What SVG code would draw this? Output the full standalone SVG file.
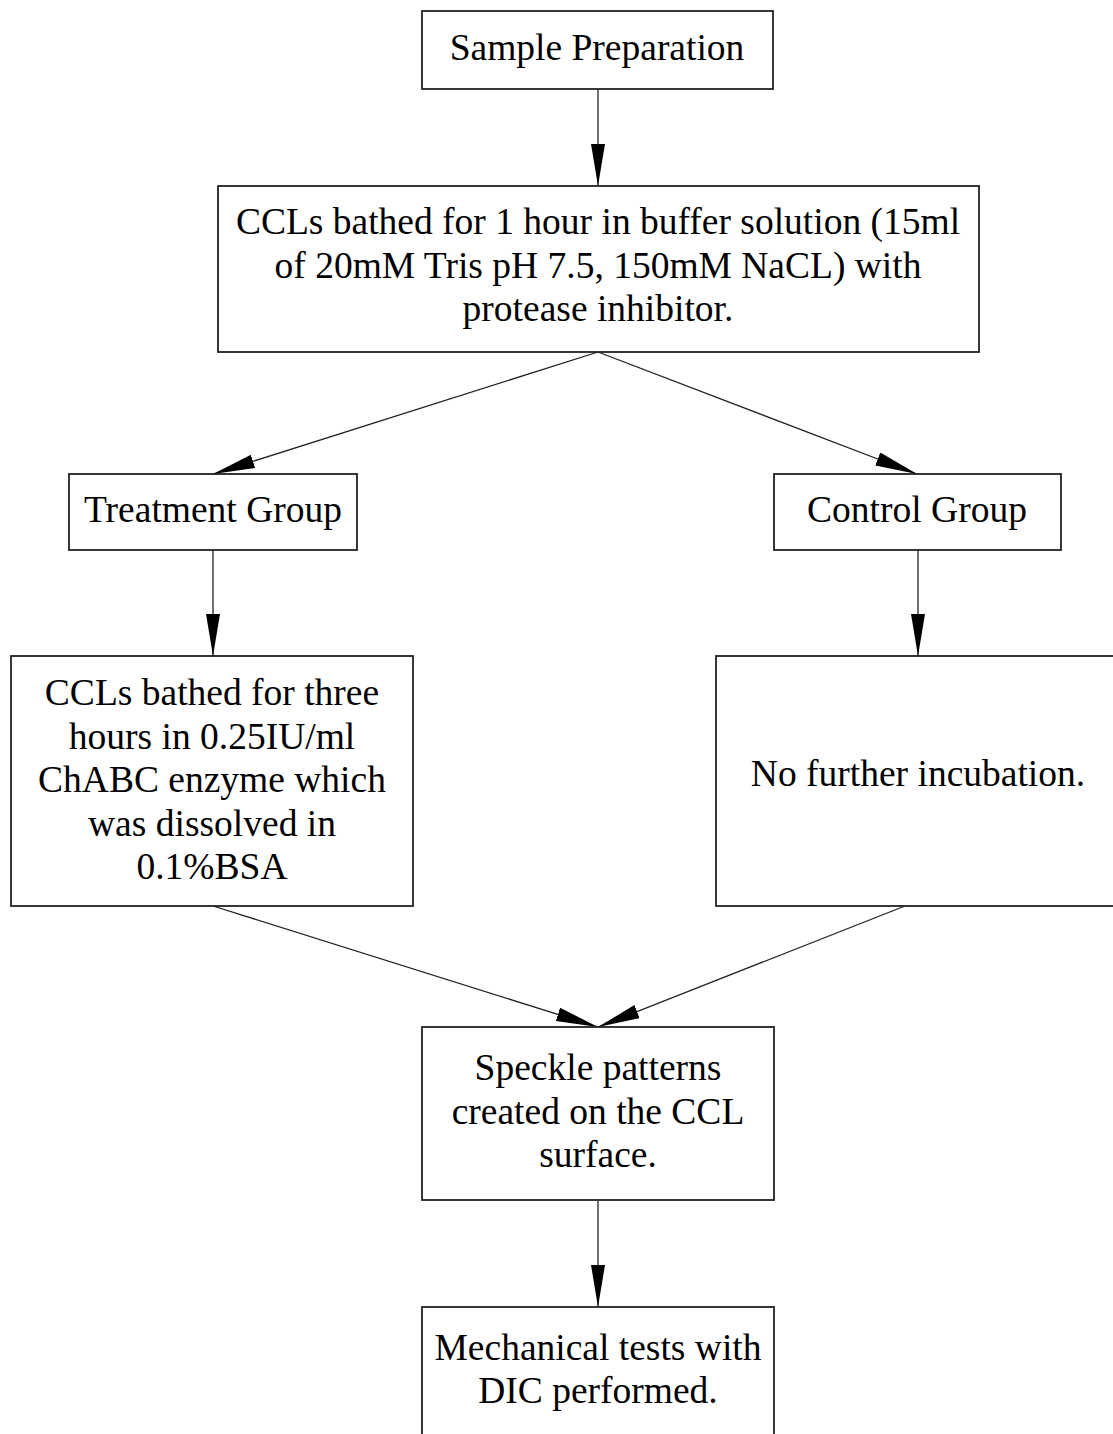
<svg xmlns="http://www.w3.org/2000/svg" width="1113" height="1434" viewBox="0 0 1113 1434">
<style>
.box{fill:#fff;stroke:#222;stroke-width:1.8}
.t{font-family:"Liberation Serif","Times New Roman",serif;font-size:37.5px;fill:#000;text-anchor:middle}
.e{stroke:#222;stroke-width:1.3;fill:none}
</style>
<defs>
<marker id="ah" markerUnits="userSpaceOnUse" markerWidth="44" markerHeight="16" refX="42" refY="7" orient="auto" viewBox="0 0 44 16">
<path d="M0,0 L42,7 L0,14 Z" fill="#000"/>
</marker>
</defs>
<rect width="1113" height="1434" fill="#fff"/>
<g id="connectors">
<line class="e" x1="598" y1="89" x2="598" y2="186" marker-end="url(#ah)"/>
<line class="e" x1="598" y1="352" x2="213" y2="474" marker-end="url(#ah)"/>
<line class="e" x1="598" y1="352" x2="917" y2="474" marker-end="url(#ah)"/>
<line class="e" x1="213" y1="550" x2="213" y2="656" marker-end="url(#ah)"/>
<line class="e" x1="918" y1="550" x2="918" y2="656" marker-end="url(#ah)"/>
<line class="e" x1="213" y1="906" x2="598" y2="1027" marker-end="url(#ah)"/>
<line class="e" x1="905" y1="906" x2="598" y2="1027" marker-end="url(#ah)"/>
<line class="e" x1="598" y1="1201" x2="598" y2="1307" marker-end="url(#ah)"/>
</g>
<g id="n1">
<rect class="box" x="422" y="11" width="351" height="78"/>
<text class="t" x="597" y="60">Sample Preparation</text>
</g>
<g id="n2">
<rect class="box" x="218" y="186" width="761" height="166"/>
<text class="t" x="598" y="234">CCLs bathed for 1 hour in buffer solution (15ml</text>
<text class="t" x="598" y="278">of 20mM Tris pH 7.5, 150mM NaCL) with</text>
<text class="t" x="598" y="321">protease inhibitor.</text>
</g>
<g id="n3">
<rect class="box" x="69" y="474" width="288" height="76"/>
<text class="t" x="213" y="522">Treatment Group</text>
</g>
<g id="n4">
<rect class="box" x="774" y="474" width="287" height="76"/>
<text class="t" x="917" y="522">Control Group</text>
</g>
<g id="n5">
<rect class="box" x="11" y="656" width="402" height="250"/>
<text class="t" x="212" y="705">CCLs bathed for three</text>
<text class="t" x="212" y="749">hours in 0.25IU/ml</text>
<text class="t" x="212" y="792">ChABC enzyme which</text>
<text class="t" x="212" y="836">was dissolved in</text>
<text class="t" x="212" y="879">0.1%BSA</text>
</g>
<g id="n6">
<rect class="box" x="716" y="656" width="404" height="250"/>
<text class="t" x="918" y="786">No further incubation.</text>
</g>
<g id="n7">
<rect class="box" x="422" y="1027" width="352" height="173"/>
<text class="t" x="598" y="1080">Speckle patterns</text>
<text class="t" x="598" y="1124">created on the CCL</text>
<text class="t" x="598" y="1167">surface.</text>
</g>
<g id="n8">
<rect class="box" x="422" y="1307" width="352" height="140"/>
<text class="t" x="598" y="1360">Mechanical tests with</text>
<text class="t" x="598" y="1403">DIC performed.</text>
</g>
</svg>
